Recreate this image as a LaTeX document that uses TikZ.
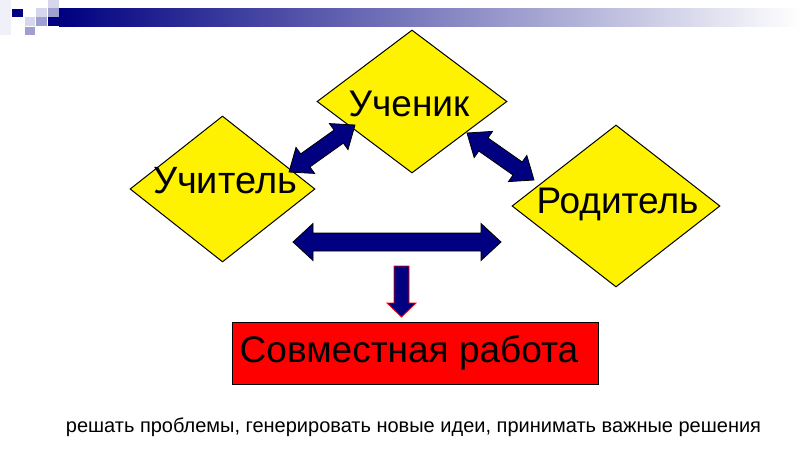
\documentclass[tikz,border=0pt]{standalone}
\usepackage{fontspec}
\setmainfont{Liberation Sans}
\usetikzlibrary{shapes.geometric,calc}
\definecolor{navy}{RGB}{0,0,128}
\definecolor{lavA}{RGB}{214,214,236}
\definecolor{lavB}{RGB}{160,160,208}
\definecolor{lavC}{RGB}{240,240,248}
\tikzset{
  rhomb/.style={diamond, draw=black, line width=1pt, fill=yellow, inner sep=0pt},
  bigtext/.style={anchor=base, inner sep=0pt, text=black},
  barrow/.style={draw=black, line width=0.8pt, fill=navy, line join=miter},
  rarrow/.style={draw=red, line width=0.8pt, fill=navy, line join=miter}
}
% double block arrow: #1 start, #2 end, #3 shaft half width, #4 head half width, #5 head length
\newcommand\dblblock[5]{%
  \draw[barrow] (#1)
    -- ($(#1)!#5!(#2)!#4!90:(#2)$)
    -- ($(#1)!#5!(#2)!#3!90:(#2)$)
    -- ($(#2)!#5!(#1)!#3!-90:(#1)$)
    -- ($(#2)!#5!(#1)!#4!-90:(#1)$)
    -- (#2)
    -- ($(#2)!#5!(#1)!#4!90:(#1)$)
    -- ($(#2)!#5!(#1)!#3!90:(#1)$)
    -- ($(#1)!#5!(#2)!#3!-90:(#2)$)
    -- ($(#1)!#5!(#2)!#4!-90:(#2)$)
    -- cycle;}
\newcommand\oneblock[5]{%
  \draw[rarrow] ($(#1)!#3!90:(#2)$)
    -- ($(#2)!#5!(#1)!#3!-90:(#1)$)
    -- ($(#2)!#5!(#1)!#4!-90:(#1)$)
    -- (#2)
    -- ($(#2)!#5!(#1)!#4!90:(#1)$)
    -- ($(#2)!#5!(#1)!#3!90:(#1)$)
    -- ($(#1)!#3!-90:(#2)$)
    -- cycle;}
\begin{document}
\begin{tikzpicture}[x=1pt,y=1pt]
\useasboundingbox (0,0) rectangle (800,-450);
\fill[white] (0,0) rectangle (800,-450);
% header band and squares
\shade[left color=navy, right color=white] (59,-8) rectangle (800,-26);
\fill[lavC] (0,0) rectangle (11,-35);
\fill[navy] (12,-9) rectangle (23,-17);
\fill[lavA] (36,-8) rectangle (47,-17);
\fill[lavA] (48,0) rectangle (59,-8);
\fill[lavB] (48,-8) rectangle (59,-17);
\fill[navy] (48,-17) rectangle (59,-26);
\fill[lavA] (25,-17) rectangle (35,-26);
\fill[lavB] (36,-17) rectangle (47,-26);
\fill[lavB] (25,-27) rectangle (35,-35);
% diamonds
\node[rhomb, minimum width=190pt, minimum height=143pt] (uchenik) at (412,-101.5) {};
\node[rhomb, minimum width=185pt, minimum height=146pt] (uchitel) at (222.5,-189) {};
\node[rhomb, minimum width=208pt, minimum height=162pt] (roditel) at (616,-206) {};
\node[bigtext, font=\fontsize{37}{42}\selectfont] (tuchenik) at (409,-116) {Ученик};
\node[bigtext, font=\fontsize{38}{44}\selectfont] (tuchitel) at (225,-193) {Учитель};
\node[bigtext, font=\fontsize{37}{42}\selectfont] (troditel) at (617.5,-213) {Родитель};
% result box
\node[draw=black, line width=0.8pt, fill=red, minimum width=366pt, minimum height=62pt, inner sep=0pt] (work) at (415,-353) {};
\node[bigtext, font=\fontsize{37}{42}\selectfont] (twork) at (409,-362) {Совместная работа};
\node[bigtext, font=\fontsize{20}{24}\selectfont] (note) at (413.5,-432) {решать проблемы, генерировать новые идеи, принимать важные решения};
% arrow end coordinates
\coordinate (a1) at (289,-172);
\coordinate (b1) at (355,-125);
\coordinate (a2) at (467,-133);
\coordinate (b2) at (534,-180);
\coordinate (a3) at (293,-242);
\coordinate (b3) at (501,-242);
\coordinate (a4) at (401.5,-266);
\coordinate (b4) at (401.5,-317);
\dblblock{a1}{b1}{8pt}{16pt}{20pt}
\dblblock{a2}{b2}{8pt}{16pt}{20pt}
\dblblock{a3}{b3}{9pt}{18.5pt}{20pt}
\oneblock{a4}{b4}{7.5pt}{14.5pt}{14pt}
\end{tikzpicture}
\end{document}
